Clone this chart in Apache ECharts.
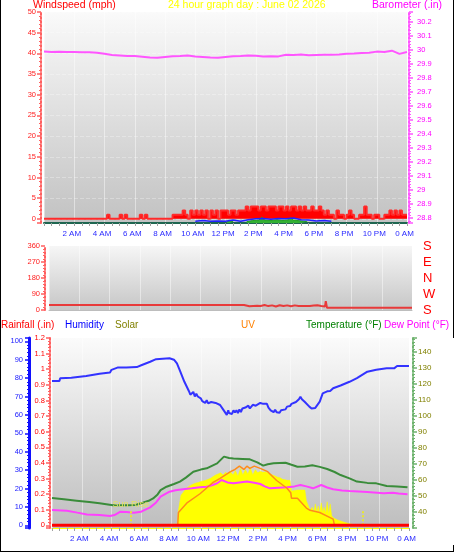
<!DOCTYPE html>
<html><head><meta charset="utf-8">
<script src="https://cdn.jsdelivr.net/npm/echarts@6/dist/echarts.min.js"></script>
<style>html,body{margin:0;padding:0;background:#fff}#c{width:455px;height:554px}</style>
</head><body><div id="c"></div>
<script>
const FONT = 'Liberation Sans, Arial, sans-serif';
const hourLabels = ['0 AM','2 AM','4 AM','6 AM','8 AM','10 AM','12 PM','2 PM','4 PM','6 PM','8 PM','10 PM','0 AM'];
const dirLabels = ['S','W','N','E','S'];

// windspeed gusts (mph), one value every 10 minutes from 0:00
const windStepMinutes = 10;
const windGust = [
 0,0,0,0,0,0, 0,0,0,0,0,0, 0,0,0,0,0,0, 0,0,0,0,0,0,
 0,1,0,0,0,0, 1,0,1,0,0,0, 0,0,1,0,1,0, 0,0,0,0,0,0,
 0,0,0,1,1,1, 1,2,1,0,2,1, 2,1,2,1,2,0, 2,1,2,0,2,2,
 2,1,2,2,1,2, 2,2,3,2,3,3, 3,2,3,3,2,3, 3,3,2,3,3,2,
 3,2,3,3,2,3, 2,3,2,2,3,2, 2,3,2,1,2,1, 1,0,2,1,1,0,
 1,2,1,0,0,1, 1,3,1,1,0,1, 1,0,0,1,1,2, 1,2,1,2,1,1,
 1
];
const windAvg = [[10.0,-0.6],[10.5,-0.4],[11.0,-0.6],[11.5,-0.5],[12.0,-0.6],[12.5,-0.3],[13.0,-0.6],[13.5,-0.2],[14.0,0],[14.5,0.1],[15.0,-0.1],[15.5,0.1],[16.0,0],[16.5,0.2],[17.0,-0.2],[17.5,-0.3],[18.0,-0.5],[18.5,-0.4],[19.0,-0.6]];
const windLull = [[12.1,-0.7],[12.3,-0.5],[12.5,-0.7],[12.6,null],[13.4,-0.7],[13.8,-0.4],[14.2,-0.3],[14.4,0.4],[14.6,-0.3],[15.0,-0.4],[15.4,-0.2],[15.8,-0.4],[16.2,-0.2],[16.3,0.3],[16.5,-0.3],[17.0,-0.5],[17.4,-0.7]];
const barometer = [[0,29.988],[0.5,29.986],[1,29.987],[1.5,29.985],[2,29.986],[2.5,29.984],[3,29.983],[3.5,29.980],[4,29.972],[4.5,29.964],[5,29.960],[5.5,29.956],[6,29.957],[6.5,29.952],[7,29.946],[7.5,29.945],[8,29.950],[8.5,29.955],[9,29.956],[9.5,29.960],[10,29.953],[10.5,29.950],[11,29.946],[11.5,29.945],[12,29.950],[12.5,29.955],[13,29.956],[13.5,29.960],[14,29.958],[14.5,29.954],[15,29.955],[15.5,29.954],[16,29.966],[16.5,29.964],[17,29.968],[17.5,29.962],[18,29.964],[18.5,29.966],[19,29.965],[19.5,29.968],[20,29.972],[20.5,29.974],[21,29.978],[21.5,29.980],[22,29.988],[22.5,29.986],[23,29.995],[23.5,29.972],[24,29.985]];
const windDir = [[0,28],[12.9,28],[13.0,22],[13.25,21],[13.5,23],[13.75,24],[14.0,23],[14.25,28],[14.5,22],[14.75,26],[15.0,20],[15.25,27],[15.5,22],[15.75,26],[16.0,21],[16.25,26],[16.5,23],[16.75,23],[17.0,22],[17.25,22],[17.5,25],[17.75,27],[18.0,23],[18.25,20],[18.3,50],[18.38,12],[18.5,13],[24,13]];

const rainfall = [[0,0],[6,0],[12,0],[18,0],[24,0]];
const humidity = [[0,78.4],[0.5,78.4],[0.55,79.9],[1.3,80.2],[1.35,80.8],[2.3,81.2],[2.35,81.7],[3.2,82.4],[3.25,83.0],[3.9,83.0],[4.0,84.5],[4.4,85.7],[5.0,85.7],[5.7,86.0],[6.0,87.0],[6.6,88.9],[7.0,90.3],[7.1,90.8],[7.9,90.8],[8.2,90.0],[8.4,88],[8.6,84],[8.9,78],[9.2,73],[9.3,71],[9.4,71.7],[9.5,72.5],[9.6,70],[9.7,71.5],[9.8,70],[10.0,69],[10.1,67.5],[10.2,68],[10.3,66.5],[10.4,68],[10.5,66.3],[10.7,67],[10.8,66],[11.0,66.5],[11.3,65.4],[11.5,63],[11.6,64],[11.75,60],[11.85,62.5],[11.9,61],[12.0,62],[12.1,60.5],[12.2,62.5],[12.3,61.4],[12.4,62.5],[12.5,61],[12.6,63],[12.7,61.5],[12.8,63.5],[12.9,62.5],[13.0,64],[13.1,63],[13.2,65],[13.3,63.5],[13.4,64.5],[13.5,65.5],[13.7,65],[13.8,66],[14.0,66.5],[14.2,66],[14.3,66.5],[14.45,66],[14.55,64],[14.7,62.5],[14.8,63],[14.9,61.5],[15.0,62.8],[15.1,61.5],[15.2,62.5],[15.3,61.2],[15.4,62.5],[15.5,62],[15.7,63],[15.8,64.5],[16.0,64.8],[16.1,66],[16.2,65.5],[16.4,67],[16.5,68],[16.6,68.5],[16.7,69.9],[16.8,68.5],[16.9,69],[17.0,67],[17.1,66.8],[17.3,64.5],[17.45,63.5],[17.55,62.7],[17.7,63.8],[17.8,63.5],[18.0,67.2],[18.2,71.7],[18.3,71.5],[18.5,72.8],[18.7,73],[18.9,74.5],[19.4,76],[20.0,78],[20.5,80],[21.2,83.5],[21.8,84.5],[22.5,85.3],[23.0,85.3],[23.2,86.6],[24,86.6]];
const solar = [[6.6,0],[6.7,12],[8.45,12],[8.5,140],[8.67,280],[8.83,310],[9.0,340],[9.17,360],[9.33,375],[9.5,385],[9.67,395],[9.83,400],[10.0,410],[10.17,415],[10.33,420],[10.5,430],[10.67,440],[10.83,455],[11.0,470],[11.17,480],[11.33,490],[11.5,470],[11.67,495],[11.83,480],[12.0,500],[12.17,470],[12.33,510],[12.5,460],[12.67,530],[12.83,470],[13.0,520],[13.17,480],[13.33,535],[13.5,470],[13.67,520],[13.83,490],[14.0,505],[14.17,495],[14.33,500],[14.5,490],[14.67,480],[14.83,470],[15.0,460],[15.17,450],[15.33,445],[15.5,430],[15.67,425],[15.83,420],[16.0,420],[16.1,320],[16.5,330],[17.0,330],[17.1,230],[17.35,140],[17.5,170],[17.6,110],[17.7,200],[17.8,120],[17.9,180],[18.0,110],[18.1,210],[18.2,120],[18.3,170],[18.4,110],[18.5,220],[18.6,100],[18.7,200],[18.8,90],[18.9,70],[19.2,50],[19.6,30],[20.0,15],[20.5,0]];
const uv = [[8.45,0],[8.5,1.2],[9.1,2.1],[9.95,2.9],[10.8,3.9],[11.3,4.3],[12.0,4.9],[12.3,5.1],[12.6,5.4],[12.9,5.1],[13.1,5.4],[13.3,5.2],[13.6,5.4],[14.0,5.2],[14.5,4.9],[15.1,4.1],[15.8,3.4],[16.05,3.0],[16.1,2.5],[16.5,2.5],[17.1,1.6],[17.35,1.4],[18.0,1.2],[18.9,0.6],[19.0,0]];
const temperature = [[0,48.8],[0.8,48.0],[1.65,47.1],[2.5,46.2],[3.2,45.4],[4.1,44.2],[5.0,44.2],[5.6,44.4],[6.1,45.8],[6.5,47.0],[6.8,48.5],[7.1,51],[7.3,53.7],[7.7,55.8],[8.2,57.5],[8.6,59],[9.0,61.5],[9.5,65.2],[10.0,66.5],[10.4,67.3],[11.1,70.4],[11.56,74.6],[11.9,73.8],[12.2,73.5],[12.8,73.2],[13.3,72.9],[13.8,71],[14.2,69],[14.5,69.8],[14.9,70.4],[15.7,70.8],[16.1,69.5],[16.5,68.3],[17.0,68.5],[17.5,69.2],[18.0,68.2],[18.5,66.9],[19.0,65],[19.4,63.1],[20.0,61],[20.5,59],[21.2,58.2],[21.8,57.9],[22.5,56.3],[23.2,56.0],[23.9,55.4]];
const dewPoint = [[0,41.2],[1.0,40.8],[1.7,39.6],[2.35,38.5],[3.2,38.1],[3.9,37.5],[4.2,38.1],[4.6,40.2],[5.0,40.0],[5.5,39.6],[6.0,40.2],[6.6,42.9],[7.0,46],[7.3,49.6],[7.9,52.7],[8.3,53.6],[8.8,54.2],[9.4,54.8],[9.95,55.4],[10.4,55.8],[10.8,56.9],[11.1,58],[11.4,60],[11.8,58.5],[12.2,57.9],[12.6,58.5],[13.1,59],[13.6,58.3],[14.0,57.5],[14.3,56],[14.65,54.8],[15.2,55.2],[15.8,55.4],[16.3,56],[16.7,56.9],[17.1,56],[17.55,54.8],[18.1,56.9],[18.5,55.3],[18.9,54.2],[19.5,53.5],[20.0,53.1],[20.6,52.8],[21.2,52.5],[22.3,51.7],[22.9,52.1],[23.3,51.5],[23.9,51.1]];
const sunEvents = [{name:'Sun Rise', hour:5.3},{name:'', hour:20.9}];

const windData = windGust.map((v,i)=>[i*windStepMinutes/60, v]);

function grad(top, bottom){
  return {type:'linear',x:0,y:0,x2:0,y2:1,colorStops:[{offset:0,color:top},{offset:1,color:bottom}]};
}
function xAx(gi, showLabels, lineColor, lineWidth, margin){
  return {gridIndex:gi, type:'value', min:0, max:24, interval:2,
    axisLine:{show:true, onZero:false, lineStyle:{color:lineColor, width:lineWidth}},
    axisTick:{show:showLabels, length:3, lineStyle:{color:'#a0a0a0'}},
    minorTick:{show:showLabels, splitNumber:4, length:3, lineStyle:{color:'#a0a0a0'}},
    axisLabel:{show:showLabels, margin:margin, color:'#2a2aff', fontSize:8, fontFamily:FONT, padding:[0,5,0,0],
      formatter:v => v===0 ? '' : hourLabels[Math.round(v/2)]},
    splitLine:{show:true, lineStyle:{color:'rgba(255,255,255,0.45)', width:1}},
    minorSplitLine:{show:false}
  };
}
function yAx(o){
  const c = o.color, lc = o.lineColor || c;
  return Object.assign({type:'value',
    axisLine:{show:true, onZero:false, lineStyle:{color:lc, width:o.lw||2, type:o.solid?'solid':[2,2]}},
    axisTick:{show:true, length:4, lineStyle:{color:lc, width:1.5}},
    minorTick:{show:true, splitNumber:o.minor||5, length:2, lineStyle:{color:lc}},
    axisLabel:{color:o.labelColor||c, fontSize:o.fs||7.5, fontFamily:FONT, margin:o.margin||5, showMinLabel:o.showMin===true, showMaxLabel:o.showMax===true},
    splitLine:{show:false}
  }, o.extra);
}

const option = {
  animation:false,
  backgroundColor:'#ffffff',
  textStyle:{fontFamily:FONT},
  title:[
    {text:'Windspeed (mph)', left:33, top:0, padding:0, textStyle:{color:'#ff0000', fontSize:10.5, fontWeight:'normal', fontFamily:FONT}},
    {text:'24 hour graph day : June 02 2026', left:168, top:0, padding:0, textStyle:{color:'#ffff00', fontSize:10.5, fontWeight:'normal', fontFamily:FONT}},
    {text:'Barometer (.in)', right:13, top:0, padding:0, textStyle:{color:'#ff00ff', fontSize:10.5, fontWeight:'normal', fontFamily:FONT}},
    {text:'Rainfall (.in)', left:1, top:320, padding:0, textStyle:{color:'#ff0000', fontSize:10, fontWeight:'normal', fontFamily:FONT}},
    {text:'Humidity', left:65, top:320, padding:0, textStyle:{color:'#0000ff', fontSize:10, fontWeight:'normal', fontFamily:FONT}},
    {text:'Solar', left:115, top:320, padding:0, textStyle:{color:'#808000', fontSize:10, fontWeight:'normal', fontFamily:FONT}},
    {text:'UV', left:241, top:320, padding:0, textStyle:{color:'#ff8000', fontSize:10, fontWeight:'normal', fontFamily:FONT}},
    {text:'Temperature (°F)', left:306, top:320, padding:0, textStyle:{color:'#008000', fontSize:10, fontWeight:'normal', fontFamily:FONT}},
    {text:'Dew Point (°F)', left:384, top:320, padding:0, textStyle:{color:'#ff00ff', fontSize:10, fontWeight:'normal', fontFamily:FONT}}
  ],
  graphic:[
    {type:'line', shape:{x1:0.5,y1:0,x2:0.5,y2:552}, style:{stroke:'#000',lineWidth:1}},
    {type:'line', shape:{x1:453.5,y1:0,x2:453.5,y2:338}, style:{stroke:'#000',lineWidth:1}},
    {type:'line', shape:{x1:453.5,y1:545,x2:453.5,y2:552}, style:{stroke:'#000',lineWidth:1}},
    {type:'line', shape:{x1:0,y1:551.5,x2:454,y2:551.5}, style:{stroke:'#000',lineWidth:1}}
  ],
  grid:[
    {left:44, top:12, width:363, height:211, show:true, borderWidth:0, backgroundColor:grad('#fafafa','#c2c2c2')},
    {left:49, top:246, width:363, height:64, show:true, borderWidth:0, backgroundColor:grad('#f6f6f6','#c6c6c6')},
    {left:52, top:338, width:357, height:190, show:true, borderWidth:0, backgroundColor:grad('#fbfbfb','#bebebe')}
  ],
  xAxis:[
    xAx(0, true, '#1e6650', 2, 7),
    xAx(1, false, '#bdbdbd', 1, 6),
    xAx(2, true, '#ffff00', 1, 7)
  ],
  yAxis:[
    yAx({color:'#ff2020', lineColor:'#ff6060', showMax:true, extra:{gridIndex:0, position:'left', offset:3, min:-1, max:50, splitNumber:10,
      splitLine:{show:true, lineStyle:{color:'rgba(255,255,255,0.3)', type:'dashed'}}}}),
    yAx({color:'#ff00ff', lineColor:'#ff55ff', margin:8, extra:{gridIndex:0, position:'right', offset:2, min:28.764, max:30.271, splitNumber:15}}),
    yAx({color:'#ff2020', lineColor:'#ff6060', showMin:true, showMax:true, extra:{gridIndex:1, position:'left', offset:4, min:0, max:360, interval:90}}),
    {gridIndex:1, type:'value', position:'right', min:0, max:360, interval:90,
      axisLine:{show:false}, axisTick:{show:false}, splitLine:{show:false},
      axisLabel:{color:'#ff0000', fontSize:13, fontFamily:FONT, margin:11, formatter:v => dirLabels[Math.round(v/90)]}},
    yAx({color:'#2020ff', lineColor:'#1010ff', lw:3, solid:true, margin:6, extra:{gridIndex:2, position:'left', offset:23, min:-1.47, max:101.8, splitNumber:10}}),
    yAx({color:'#ff0000', lineColor:'#ff6060', showMax:true, extra:{gridIndex:2, position:'left', offset:2, min:-0.017, max:1.2, splitNumber:12}}),
    yAx({color:'#808000', lineColor:'#6fb36f', fs:8, extra:{gridIndex:2, position:'right', offset:4, min:30, max:148.75, interval:10}}),
    {gridIndex:2, type:'value', show:false, min:-25, max:1750},
    {gridIndex:2, type:'value', show:false, min:-0.2, max:17}
  ],
  series:[
    {name:'Windspeed', type:'line', xAxisIndex:0, yAxisIndex:0, step:'end', symbol:'none', data:windData,
      lineStyle:{color:'#ff2a2a', width:2}, areaStyle:{color:'#ff0000', opacity:1}, z:2},
    {name:'Wind lull', type:'line', xAxisIndex:0, yAxisIndex:0, symbol:'none', data:windLull, connectNulls:false,
      lineStyle:{color:'#22a022', width:1}, areaStyle:{color:'#33b033', opacity:1, origin:'start'}, z:3},
    {name:'Wind average', type:'line', xAxisIndex:0, yAxisIndex:0, symbol:'none', data:windAvg,
      lineStyle:{color:'#2222ff', width:1.5}, z:4},
    {name:'Barometer', type:'line', xAxisIndex:0, yAxisIndex:1, symbol:'none', data:barometer,
      lineStyle:{color:'#ff55ff', width:2}, z:4},
    {name:'Wind direction', type:'line', xAxisIndex:1, yAxisIndex:2, symbol:'none', data:windDir,
      lineStyle:{color:'#e83a3a', width:2}, z:4},
    {name:'Solar', type:'line', xAxisIndex:2, yAxisIndex:7, symbol:'none', data:solar,
      lineStyle:{color:'#ffff00', width:0.5}, areaStyle:{color:'#ffff00', opacity:1}, z:2},
    {name:'Temperature', type:'line', xAxisIndex:2, yAxisIndex:6, symbol:'none', data:temperature,
      lineStyle:{color:'#3a8c3a', width:2}, z:4},
    {name:'Dew Point', type:'line', xAxisIndex:2, yAxisIndex:6, symbol:'none', data:dewPoint,
      lineStyle:{color:'#ff40ff', width:2}, z:4},
    {name:'Humidity', type:'line', xAxisIndex:2, yAxisIndex:4, symbol:'none', data:humidity,
      lineStyle:{color:'#3333ff', width:2}, z:4},
    {name:'UV', type:'line', xAxisIndex:2, yAxisIndex:8, symbol:'none', data:uv,
      lineStyle:{color:'#ff8c1a', width:1.5}, z:4},
    {name:'Rainfall', type:'line', xAxisIndex:2, yAxisIndex:5, symbol:'none', data:rainfall,
      lineStyle:{color:'#ff0000', width:3}, z:6,
      markLine:{silent:true, symbol:'none',
        lineStyle:{color:'#e8e830', type:[2,2], width:2},
        label:{show:true, position:'end', distance:1, formatter:'{b}', color:'#e4e460', fontSize:9, fontFamily:FONT},
        data: sunEvents.map(s => [{name:s.name, coord:[s.hour,0]},{coord:[s.hour,0.1]}])}}
  ]
};
const chart = echarts.init(document.getElementById('c'), null, {renderer:'canvas'});
chart.setOption(option);
</script></body></html>
